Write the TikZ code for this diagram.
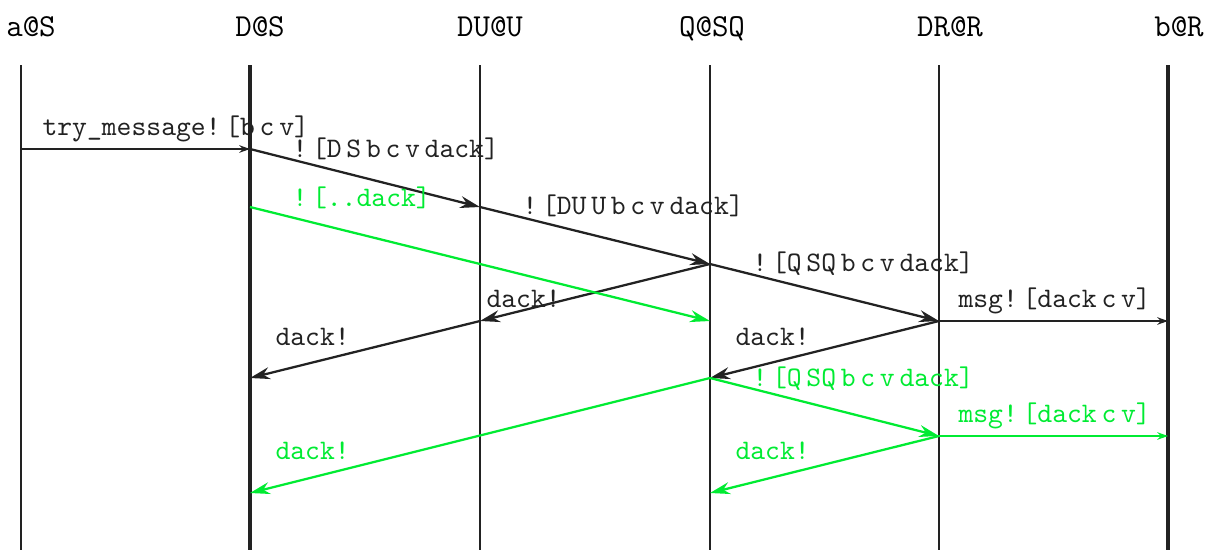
\documentclass[tikz,border=0pt]{standalone}
\usetikzlibrary{arrows.meta}

\definecolor{ink}{RGB}{34,34,34}
\definecolor{sent}{RGB}{0,235,50}

\begin{document}
\begin{tikzpicture}[x=0.375pt,y=-0.375pt]

		\tikzstyle{head}=[font=\large\ttfamily,anchor=base,inner sep=0pt]
		\tikzstyle{life}=[draw=ink,line width=0.8pt]
		\tikzstyle{label}=[font=\fontsize{10.6}{12}\selectfont\ttfamily,anchor=base west,inner sep=0pt,text=ink]
		\tikzstyle{msg}=[-{Stealth[length=7.5pt,width=4.5pt]},draw=ink,line width=0.85pt]
		\tikzstyle{flat}=[-{Stealth[length=4pt,width=2.8pt]},draw=ink,line width=0.85pt]

		\useasboundingbox (0,0) rectangle (1216,550);

		% heads of the lifelines
		\node[head]	(aS)	at (31,36)	{a@S};
		\node[head]	(DS)	at (260,36)	{D@S};
		\node[head]	(DUU)	at (490,36)	{DU@U};
		\node[head]	(QSQ)	at (712,36)	{Q@SQ};
		\node[head]	(DRR)	at (950,36)	{DR@R};
		\node[head]	(bR)	at (1179,36)	{b@R};

		% event points on each lifeline
		\foreach \n/\x in {aS/21,DS/250,DUU/480,QSQ/710,DRR/939,bR/1168}{
			\coordinate (\n-top) at (\x,65);
			\coordinate (\n-bot) at (\x,550);
			\foreach \t/\y in {1/149,2/207,3/264,4/321,5/378,6/436,7/493}
				\coordinate (\n-\t) at (\x,\y);
		}

		\draw[life]	(aS-top)	--	(aS-bot);
		\draw[life,line width=1.15pt]	(DS-top)	--	(DS-bot);
		\draw[life]	(DUU-top)	--	(DUU-bot);
		\draw[life]	(QSQ-top)	--	(QSQ-bot);
		\draw[life]	(DRR-top)	--	(DRR-bot);
		\draw[life,line width=1.15pt]	(bR-top)	--	(bR-bot);

		% first run
		\draw[flat]	(aS-1)	--	(DS-1);
		\draw[msg]	(DS-1)	--	(DUU-2);
		\draw[msg]	(DUU-2)	--	(QSQ-3);
		\draw[msg]	(QSQ-3)	--	(DRR-4);
		\draw[flat]	(DRR-4)	--	(bR-4);
		\draw[msg]	(QSQ-3)	--	(DUU-4);
		\draw[msg]	(DUU-4)	--	(DS-5);
		\draw[msg]	(DRR-4)	--	(QSQ-5);

		% second run
		\draw[msg,draw=sent]	(DS-2)	--	(QSQ-4);
		\draw[msg,draw=sent]	(QSQ-5)	--	(DRR-6);
		\draw[flat,draw=sent]	(DRR-6)	--	(bR-6);
		\draw[msg,draw=sent]	(QSQ-5)	--	(DS-7);
		\draw[msg,draw=sent]	(DRR-6)	--	(QSQ-7);

		\node[label]	(l-try)	at (42,135)	{try\_message!\,[b\,c\,v]};
		\node[label]	(l-ds)	at (292,157)	{!\,[D\,S\,b\,c\,v\,dack]};
		\node[label]	(l-duu)	at (522,214)	{!\,[DU\,U\,b\,c\,v\,dack]};
		\node[label]	(l-qsq)	at (752,271)	{!\,[Q\,SQ\,b\,c\,v\,dack]};
		\node[label]	(l-msg)	at (958,307)	{msg!\,[dack\,c\,v]};
		\node[label]	(l-ack1)	at (486,307)	{dack!};
		\node[label]	(l-ack2)	at (275,345)	{dack!};
		\node[label]	(l-ack3)	at (735,345)	{dack!};

		\node[label,text=sent]	(l-dots)	at (292,206)	{!\,[..dack]};
		\node[label,text=sent]	(l-qsq2)	at (752,386)	{!\,[Q\,SQ\,b\,c\,v\,dack]};
		\node[label,text=sent]	(l-msg2)	at (958,422)	{msg!\,[dack\,c\,v]};
		\node[label,text=sent]	(l-ack4)	at (275,459)	{dack!};
		\node[label,text=sent]	(l-ack5)	at (735,459)	{dack!};

	\end{tikzpicture}
\end{document}
